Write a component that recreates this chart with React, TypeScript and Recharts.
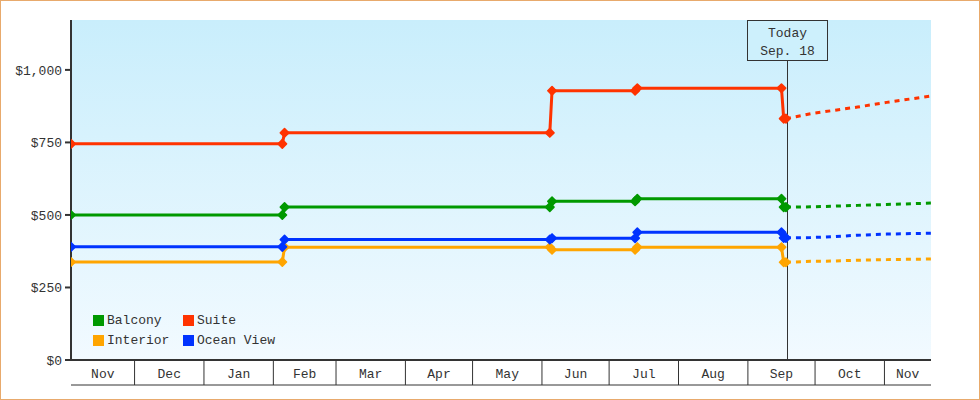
import React from 'react';
import { LineChart, Line, XAxis, YAxis, ReferenceLine } from 'recharts';

// ---- data ----
const monthLabels = ['Nov', 'Dec', 'Jan', 'Feb', 'Mar', 'Apr', 'May', 'Jun', 'Jul', 'Aug', 'Sep', 'Oct', 'Nov'];
const monthStartDays = [0, 30, 61, 92, 120, 151, 181, 212, 242, 273, 304, 334, 365];
const dayDomain: [number, number] = [1.6, 385.8];
const todayDay = 321.4;
const todayLabel = ['Today', 'Sep. 18'];
const priceTicks = [0, 250, 500, 750, 1000];
const priceMax = 1172;

const histDays = [1.6, 96, 97, 215.5, 216.5, 253.6, 254.6, 319, 320, 321];
const suiteHist = [745, 745, 783, 783, 928, 928, 937, 937, 832, 832];
const balconyHist = [500, 500, 527, 527, 547, 547, 556, 556, 527, 527];
const oceanHist = [390, 390, 415, 415, 420, 420, 440, 440, 421, 421];
const interiorHist = [338, 338, 389, 389, 380, 380, 389, 389, 337, 337];

const forecastDays = [321, 332, 341, 353, 366, 385.8];
const suiteFc = [832, 849, 859, 872, 888, 910];
const balconyFc = [527, 528, 530, 533, 536, 541];
const oceanFc = [421, 422, 425, 430, 434, 437];
const interiorFc = [337, 340, 341, 344, 346, 348];

const seriesNames = ['Balcony', 'Suite', 'Interior', 'Ocean View'];
const seriesColors = ['#009900', '#ff3300', '#ffa500', '#0033ff'];

const toPoints = (days: number[], vals: number[]) => days.map((d, i) => ({ day: d, v: vals[i] }));

const series = [
  { name: 'Interior', color: '#ffa500', hist: toPoints(histDays, interiorHist), fc: toPoints(forecastDays, interiorFc) },
  { name: 'Ocean View', color: '#0033ff', hist: toPoints(histDays, oceanHist), fc: toPoints(forecastDays, oceanFc) },
  { name: 'Balcony', color: '#009900', hist: toPoints(histDays, balconyHist), fc: toPoints(forecastDays, balconyFc) },
  { name: 'Suite', color: '#ff3300', hist: toPoints(histDays, suiteHist), fc: toPoints(forecastDays, suiteFc) },
];

const boundaryTicks = monthStartDays.filter((d) => d > dayDomain[0] && d < dayDomain[1]);
const labelDays = monthLabels.map((_, i) => {
  const s = Math.max(monthStartDays[i], dayDomain[0]);
  const e = Math.min(i + 1 < monthStartDays.length ? monthStartDays[i + 1] : dayDomain[1], dayDomain[1]);
  return (s + e) / 2;
});

const FONT = '"Liberation Mono", monospace';
const INK = '#333333';

const fmtPrice = (v: number) => '$' + v.toLocaleString('en-US');

const Diamond = (props: any) => {
  const { cx, cy, stroke } = props;
  if (cx == null || cy == null) return null;
  const r = 4.2;
  return (
    <polygon
      points={`${cx},${cy - r} ${cx + r},${cy} ${cx},${cy + r} ${cx - r},${cy}`}
      fill={stroke}
      stroke={stroke}
      strokeWidth={1.6}
      strokeLinejoin="round"
    />
  );
};

const EmptyTick = () => <g />;

const MonthTick = (props: any) => {
  const { x, index } = props;
  return (
    <text x={x} y={377.5} textAnchor="middle" fill={INK} fontSize={13} fontFamily={FONT}>
      {monthLabels[index]}
    </text>
  );
};

const TodayBox = (props: any) => {
  const vb = props.viewBox || {};
  const cx = Math.round(vb.x) + 0.5;
  const top = vb.y;
  return (
    <g>
      <rect x={cx - 40} y={top + 0.5} width={80} height={40} fill="#cdf0fc" stroke={INK} strokeWidth={1} />
      <text x={cx} y={top + 17} textAnchor="middle" fill={INK} fontSize={13} fontFamily={FONT}>
        {todayLabel[0]}
      </text>
      <text x={cx} y={top + 35} textAnchor="middle" fill={INK} fontSize={13} fontFamily={FONT}>
        {todayLabel[1]}
      </text>
    </g>
  );
};

const CrispVLine = (props: any) => {
  const { x1, y1, y2 } = props;
  const x = Math.round(x1) + 0.5;
  return <line x1={x} x2={x} y1={y1} y2={y2} stroke={INK} strokeWidth={1} />;
};

export default function App() {
  return (
    <div style={{ position: 'absolute', left: 0, top: 0, width: 980, height: 400, background: '#fff' }}>
      <div
        style={{
          position: 'absolute',
          left: 71,
          top: 20,
          width: 860,
          height: 340,
          background: 'linear-gradient(to bottom, #c9eefc 0%, #f2faff 100%)',
        }}
      />
      <div style={{ position: 'absolute', left: 0, top: 0 }}>
        <LineChart
          width={980}
          height={400}
          margin={{ top: 20, right: 49, left: 0, bottom: 0 }}
          style={{ fontFamily: FONT }}
        >
          <XAxis
            xAxisId="a"
            dataKey="day"
            type="number"
            domain={dayDomain}
            ticks={boundaryTicks}
            interval={0}
            height={25}
            tickSize={25}
            tick={EmptyTick}
            tickLine={{ stroke: INK, strokeWidth: 1 }}
            axisLine={{ stroke: INK, strokeWidth: 2 }}
            allowDataOverflow
          />
          <XAxis
            xAxisId="b"
            dataKey="day"
            type="number"
            domain={dayDomain}
            ticks={labelDays}
            interval={0}
            height={15}
            tickLine={false}
            tick={MonthTick}
            axisLine={{ stroke: INK, strokeWidth: 1 }}
            allowDataOverflow
          />
          <YAxis
            yAxisId="p"
            type="number"
            width={71}
            domain={[0, priceMax]}
            ticks={priceTicks}
            interval={0}
            tickFormatter={fmtPrice}
            tickSize={6}
            tickMargin={3}
            tick={{ fill: INK, fontSize: 13, fontFamily: FONT }}
            tickLine={{ stroke: INK, strokeWidth: 2 }}
            axisLine={{ stroke: INK, strokeWidth: 2 }}
            allowDataOverflow
          />
          <ReferenceLine
            xAxisId="a"
            yAxisId="p"
            x={todayDay}
            stroke={INK}
            strokeWidth={1}
            shape={CrispVLine}
            label={<TodayBox />}
          />
          {series.map((s) => (
            <Line
              key={s.name + '-fc'}
              xAxisId="a"
              yAxisId="p"
              data={s.fc}
              dataKey="v"
              type="linear"
              stroke={s.color}
              strokeWidth={3}
              strokeDasharray="5 5"
              dot={false}
              activeDot={false}
              isAnimationActive={false}
            />
          ))}
          {series.map((s) => (
            <Line
              key={s.name + '-hist'}
              xAxisId="a"
              yAxisId="p"
              data={s.hist}
              dataKey="v"
              type="linear"
              stroke={s.color}
              strokeWidth={3}
              dot={<Diamond />}
              activeDot={false}
              isAnimationActive={false}
            />
          ))}
        </LineChart>
      </div>
      <div
        style={{
          position: 'absolute',
          left: 93,
          top: 312,
          display: 'grid',
          gridTemplateColumns: '90px 120px',
          rowGap: 3,
          fontFamily: FONT,
          fontSize: 13,
          color: INK,
          lineHeight: '17px',
        }}
      >
        {seriesNames.map((n, i) => (
          <div key={n} style={{ display: 'flex', alignItems: 'center', whiteSpace: 'nowrap' }}>
            <span
              style={{ display: 'inline-block', width: 11, height: 11, background: seriesColors[i], marginRight: 3 }}
            />
            <span>{n}</span>
          </div>
        ))}
      </div>
      <div
        style={{
          position: 'absolute',
          left: 0,
          top: 0,
          width: 980,
          height: 400,
          boxSizing: 'border-box',
          border: '1px solid #e8aa6c',
          pointerEvents: 'none',
        }}
      />
    </div>
  );
}
